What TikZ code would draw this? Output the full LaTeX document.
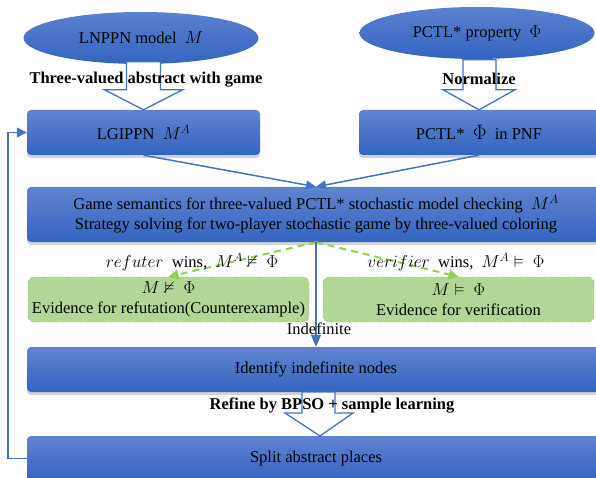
\documentclass[tikz,border=0pt]{standalone}
\usepackage{amsmath,amssymb}
\usepackage{fontspec}
\setmainfont{Liberation Serif}
\usetikzlibrary{arrows.meta,positioning,calc,shapes.geometric,shadows}
\definecolor{boxtop}{RGB}{96,131,208}
\definecolor{boxbot}{RGB}{52,100,193}
\definecolor{lineblue}{RGB}{68,114,196}
\definecolor{leaf}{RGB}{178,214,152}
\definecolor{leafline}{RGB}{140,190,105}
\definecolor{dashgreen}{RGB}{146,208,80}
\tikzset{
  flow/.style={-{Triangle[length=10pt,width=9pt]},line width=1.5pt,draw=lineblue},
  hollow/.style={draw=lineblue,line width=1.3pt,fill=white,line join=miter},
  box/.style={rounded corners=4pt,top color=boxtop,bottom color=boxbot,
              drop shadow={shadow xshift=0pt,shadow yshift=-3pt,opacity=0.35},
              align=center,minimum height=45pt,inner sep=0pt,
              font=\fontsize{16.5}{20}\selectfont},
  oval/.style={ellipse,top color=boxtop!90!boxbot,bottom color=boxbot,
               minimum width=235pt,minimum height=52pt,
               font=\fontsize{16.5}{20}\selectfont},
  leafbox/.style={rounded corners=6pt,draw=leafline,dashed,fill=leaf,
                  align=center,minimum height=45pt,inner sep=0pt,
                  font=\fontsize{16.5}{19.5}\selectfont},
  pass/.style={-{Triangle[length=10pt,width=10pt]},draw=dashgreen,
               line width=2pt,dash pattern=on 7pt off 5pt},
  tag/.style={font=\fontsize{16.5}{18}\selectfont\bfseries},
  note/.style={font=\fontsize{16.5}{18}\selectfont}
}
\begin{document}
\begin{tikzpicture}[x=1pt,y=-1pt]
  \useasboundingbox (0,0) rectangle (596,478);
  % sources
  \node[oval] (lnppn) at (141,38) {LNPPN model \ $M$};
  \node[oval] (prop) at (477,33) {PCTL* property \ $\Phi$};
  % abstraction level
  \node[box,minimum width=233pt] (lgippn) at (143.5,132.5) {LGIPPN \ $M^{A}$};
  \node[box,minimum width=240pt] (pnf) at (479,132.5)
    {PCTL* \ {\fontsize{21}{21}\selectfont$\Phi$} \ in PNF};
  \draw[hollow] (lgippn.north) -- ++(-39,-20) -- ++(22,0) -- ++(0,-28)
    -- ++(34,0) -- ++(0,28) -- ++(22,0) -- cycle;
  \draw[hollow] (pnf.north) -- ++(-36,-20) -- ++(20,0) -- ++(0,-30)
    -- ++(33,0) -- ++(0,30) -- ++(19,0) -- cycle;
  \node[tag] (abs) at (146,80) {Three-valued abstract with game};
  \node[tag] (norm) at (479,79) {Normalize};
  % game solving
  \node[box,minimum width=578pt,minimum height=55pt] (game) at (316,214.5)
    {Game semantics for three-valued PCTL* stochastic model checking \ $M^{A}$\\
     Strategy solving for two-player stochastic game by three-valued coloring};
  \draw[flow] (lgippn.south) -- (game.north);
  \draw[flow] (pnf.south) -- (game.north);
  % results
  \node[leafbox,minimum width=281pt] (refute) at (168.5,299.5)
    {$M \nvDash\ \Phi$\\Evidence for refutation(Counterexample)};
  \node[leafbox,minimum width=271pt] (verify) at (458.5,299.5)
    {$M \vDash\ \Phi$\\Evidence for verification};
  \draw[pass] (game.south) -- (refute.north);
  \draw[pass] (game.south) -- (verify.north);
  \node[note] (rwin) at (192,262) {$refuter$ \ wins, \ $M^{A} \nvDash\ \Phi$};
  \node[note] (vwin) at (456,262) {$verifier$ \ wins, \ $M^{A} \vDash\ \Phi$};
  % refinement
  \node[box,minimum width=578pt] (ident) at (316,369.5) {Identify indefinite nodes};
  \node[box,minimum width=578pt] (split) at (316,458.5) {Split abstract places};
  \draw[flow,-{Triangle[length=12pt,width=10pt]}] (game.south) -- (ident.north);
  \node[note] (indef) at (319,329) {Indefinite};
  \draw[hollow] (320,436) -- ++(-35,-23) -- ++(17,0) -- ++(0,-21)
    -- ++(33,0) -- ++(0,21) -- ++(18,0) -- cycle;
  \node[tag] (refine) at (332,406) {Refine by BPSO + sample learning};
  \draw[lineblue,line width=1.5pt,-{Triangle[length=10pt,width=10pt]}]
    (split.west) -- ++(-19,0) |- (lgippn.west);
\end{tikzpicture}
\end{document}
